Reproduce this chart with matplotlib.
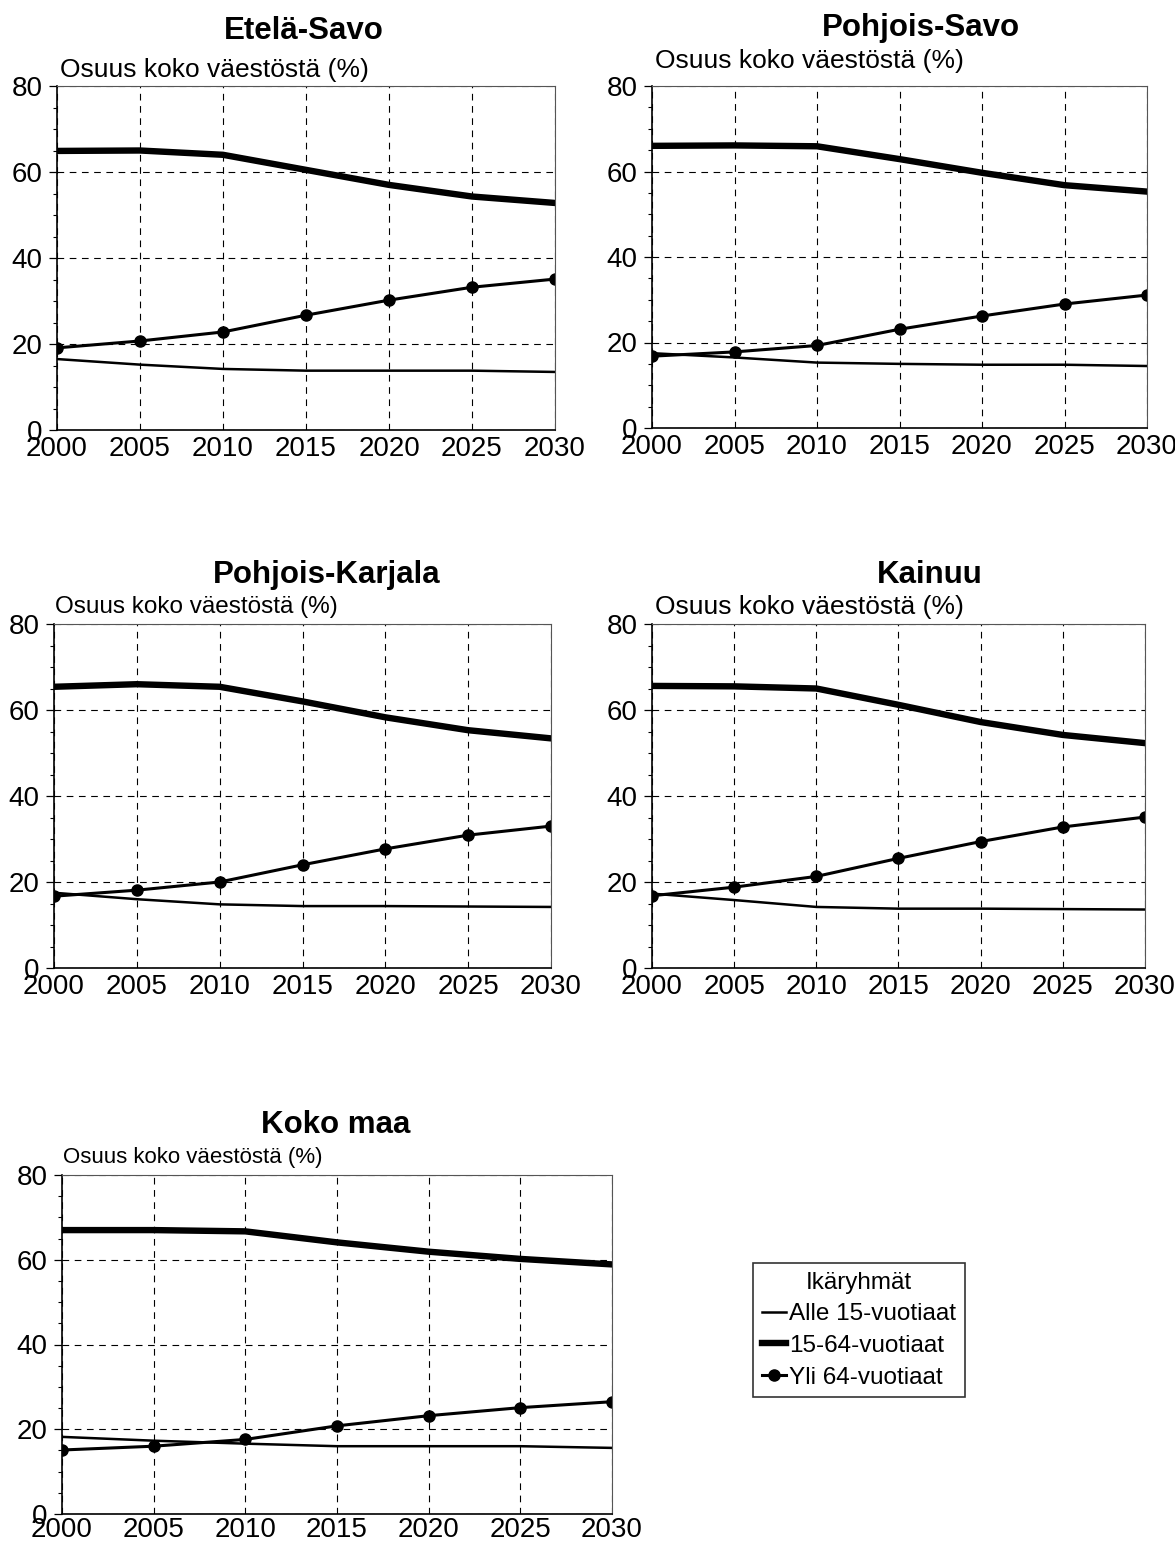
import matplotlib
matplotlib.use('Agg')
import matplotlib.pyplot as plt
from matplotlib.ticker import MultipleLocator

plt.rcParams['font.family'] = ['Liberation Sans', 'DejaVu Sans']

W, H = 1175, 1546

years = [2000, 2005, 2010, 2015, 2020, 2025, 2030]

regions = ['Etelä-Savo', 'Pohjois-Savo', 'Pohjois-Karjala', 'Kainuu', 'Koko maa']

# Alle 15-vuotiaat
under15 = {
    'Etelä-Savo':      [16.5, 15.2, 14.2, 13.8, 13.8, 13.8, 13.5],
    'Pohjois-Savo':    [17.5, 16.5, 15.3, 15.0, 14.8, 14.8, 14.5],
    'Pohjois-Karjala': [17.5, 16.0, 14.8, 14.4, 14.4, 14.3, 14.2],
    'Kainuu':          [17.3, 15.8, 14.2, 13.8, 13.8, 13.7, 13.6],
    'Koko maa':        [18.2, 17.3, 16.6, 16.0, 16.0, 16.0, 15.6],
}
# 15-64-vuotiaat
working = {
    'Etelä-Savo':      [64.9, 65.0, 64.0, 60.5, 57.0, 54.3, 52.8],
    'Pohjois-Savo':    [66.0, 66.1, 65.9, 62.9, 59.7, 56.8, 55.3],
    'Pohjois-Karjala': [65.4, 66.0, 65.4, 62.0, 58.3, 55.3, 53.4],
    'Kainuu':          [65.6, 65.5, 65.0, 61.2, 57.2, 54.2, 52.3],
    'Koko maa':        [67.0, 67.0, 66.7, 64.1, 61.9, 60.2, 58.9],
}
# Yli 64-vuotiaat
over64 = {
    'Etelä-Savo':      [19.1, 20.7, 22.8, 26.7, 30.2, 33.2, 35.1],
    'Pohjois-Savo':    [16.8, 17.8, 19.3, 23.1, 26.2, 29.0, 31.1],
    'Pohjois-Karjala': [16.7, 18.1, 20.0, 24.0, 27.7, 30.9, 33.0],
    'Kainuu':          [16.8, 18.8, 21.3, 25.5, 29.4, 32.8, 35.1],
    'Koko maa':        [15.1, 16.0, 17.6, 20.8, 23.2, 25.1, 26.5],
}

series_labels = ['Alle 15-vuotiaat', '15-64-vuotiaat', 'Yli 64-vuotiaat']
ylabel_text = 'Osuus koko väestöstä (%)'


def fx(x):
    return x / W


def fy(y):
    return 1 - y / H


# axes boxes in pixels: left, top, right, bottom
boxes = {
    'Etelä-Savo':      (57, 86, 555, 430),
    'Pohjois-Savo':    (652, 86, 1147, 428),
    'Pohjois-Karjala': (54, 624, 551, 968),
    'Kainuu':          (652, 624, 1145, 968),
    'Koko maa':        (62, 1175, 612, 1514),
}
# title centre, y-label start (pixels) and y-label size
titles = {
    'Etelä-Savo':      (304, 31),
    'Pohjois-Savo':    (921, 28),
    'Pohjois-Karjala': (327, 575),
    'Kainuu':          (930, 575),
    'Koko maa':        (336, 1125),
}
ylabels = {
    'Etelä-Savo':      (60, 70, 19),
    'Pohjois-Savo':    (655, 61, 19),
    'Pohjois-Karjala': (55, 607, 17.5),
    'Kainuu':          (655, 607, 19),
    'Koko maa':        (63, 1157, 16),
}

fig = plt.figure(figsize=(W / 100, H / 100), dpi=100)
fig.patch.set_facecolor('white')

for name in regions:
    l, t, r, b = boxes[name]
    ax = fig.add_axes([fx(l), fy(b), (r - l) / W, (b - t) / H])
    ax.plot(years, under15[name], color='black', lw=1.8, label=series_labels[0])
    ax.plot(years, working[name], color='black', lw=4.6, label=series_labels[1])
    ax.plot(years, over64[name], color='black', lw=2.2, marker='o', markersize=8,
            label=series_labels[2])
    ax.set_xlim(2000, 2030)
    ax.set_ylim(0, 80)
    ax.set_xticks(years)
    ax.set_yticks([0, 20, 40, 60, 80])
    ax.yaxis.set_minor_locator(MultipleLocator(5))
    ax.tick_params(axis='both', labelsize=20, colors='black')
    ax.tick_params(axis='x', length=0, pad=2 if name == 'Koko maa' else 4)
    ax.tick_params(axis='y', which='major', length=5.5, width=0.9, pad=5)
    ax.tick_params(axis='y', which='minor', length=3, width=0.8)
    ax.grid(True, which='major', color='black', lw=0.8, linestyle=(0, (6, 5)))
    ax.spines['left'].set_color('black')
    ax.spines['bottom'].set_color('black')
    ax.spines['left'].set_linewidth(1.2)
    ax.spines['bottom'].set_linewidth(1.2)
    for s in ['top', 'right']:
        ax.spines[s].set_color('#555555')
        ax.spines[s].set_linewidth(0.8)
    ax.set_axisbelow(True)

    tx, ty = titles[name]
    fig.text(fx(tx), fy(ty), name, ha='center', va='center', fontsize=22.5,
             fontweight='bold')
    lx, ly, ls = ylabels[name]
    fig.text(fx(lx), fy(ly), ylabel_text, ha='left', va='center', fontsize=ls)

handles, labels = ax.get_legend_handles_labels()
leg = fig.legend(handles, labels, title='Ikäryhmät', loc='upper left',
                 bbox_to_anchor=(fx(753), fy(1263)), fontsize=17.5,
                 title_fontsize=17.5, frameon=True, fancybox=False,
                 edgecolor='black', handlelength=1.0, handletextpad=0.15,
                 borderpad=0.35, labelspacing=0.4, borderaxespad=0)
leg.get_frame().set_linewidth(1.2)

plt.savefig('out.png', dpi=100)
plt.close()
